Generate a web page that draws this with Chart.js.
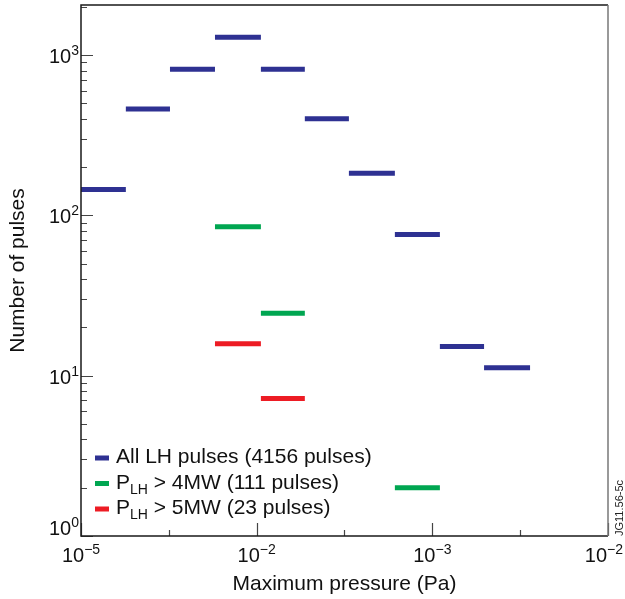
<!DOCTYPE html>
<html>
<head>
<meta charset="utf-8">
<script src="https://cdn.jsdelivr.net/npm/chart.js@4.4.1/dist/chart.umd.min.js"></script>
<style>
  html, body { margin: 0; padding: 0; background: #fff; }
  #wrap { width: 625px; height: 599px; }
</style>
</head>
<body>
<div id="wrap"><canvas id="pulseChart"></canvas></div>
<script>
// bin edges of the pressure histogram (Pa)
const binEdges = [1.0e-5, 1.80e-5, 3.21e-5, 5.79e-5, 1.057e-4, 1.88e-4, 3.35e-4, 6.12e-4, 1.104e-3, 1.97e-3, 3.60e-3];

// counts per bin (null = empty bin)
const allPulses = [145, 460, 815, 1290, 815, 400, 183, 76, 15.2, 11.2];
const plhOver4 = [null, null, null, 85, 24.5, null, null, 2.0, null, null];
const plhOver5 = [null, null, null, 15.8, 7.2, null, null, null, null, null];

// axis ticks
const xTickValues = [1e-5, 3.16e-5, 1e-4, 3.16e-4, 1e-3, 3.16e-3, 1e-2];
const xMajorValues = [1e-5, 1e-4, 1e-3, 1e-2];
const xTickExps = ['\u22125', '\u22122', '\u22123', '\u22122'];
const yMajorValues = [1, 10, 100, 1000];
const yTickExps = ['0', '1', '2', '3'];

const seriesColors = ['#2e3192', '#00a651', '#ed1c24'];
const legendParts = [
  [['All LH pulses (4156 pulses)', false]],
  [['P', false], ['LH', true], [' > 4MW (111 pulses)', false]],
  [['P', false], ['LH', true], [' > 5MW (23 pulses)', false]]
];
const figTag = 'JG11.56-5c';

const X_MIN = 1e-5, X_MAX = 1e-2, Y_MIN = 1, Y_MAX = 2050;
const FONT = '"Liberation Sans", Arial, Helvetica, sans-serif';

function toSegments(values) {
  const pts = [];
  values.forEach((v, i) => {
    if (v === null) return;
    pts.push({ x: binEdges[i], y: v });
    pts.push({ x: binEdges[i + 1], y: v });
    pts.push({ x: binEdges[i + 1], y: null });
  });
  return pts;
}

function drawPow(ctx, exp, x, baseline, align) {
  ctx.font = '20px ' + FONT;
  const wb = ctx.measureText('10').width;
  ctx.font = '14px ' + FONT;
  const we = ctx.measureText(exp).width;
  let start = x;
  if (align === 'center') start = x - (wb + we) / 2;
  if (align === 'right') start = x - (wb + we);
  // keep the last label inside the canvas
  start = Math.min(start, 623 - (wb + we));
  ctx.textAlign = 'left';
  ctx.textBaseline = 'alphabetic';
  ctx.font = '20px ' + FONT;
  ctx.fillText('10', start, baseline);
  ctx.font = '14px ' + FONT;
  ctx.fillText(exp, start + wb, baseline - 8);
}

const axesPlugin = {
  id: 'axesPlugin',
  afterDatasetsDraw(chart) {
    const { ctx, chartArea: a, scales: { x, y } } = chart;
    ctx.save();

    // inside ticks
    ctx.strokeStyle = '#444';
    ctx.lineWidth = 1.2;
    ctx.beginPath();
    for (const d of yMajorValues) {
      for (let m = 1; m <= 9; m++) {
        const v = d * m;
        if (v > Y_MAX) break;
        const py = Math.round(y.getPixelForValue(v)) + 0.5;
        ctx.moveTo(a.left, py);
        ctx.lineTo(a.left + (m === 1 ? 12 : 6), py);
      }
    }
    xTickValues.forEach(v => {
      const px = Math.round(x.getPixelForValue(v)) + 0.5;
      const major = xMajorValues.includes(v);
      ctx.moveTo(px, a.bottom);
      ctx.lineTo(px, a.bottom - (major ? 13 : 6));
    });
    ctx.stroke();

    // frame
    ctx.lineWidth = 1.5;
    ctx.strokeStyle = '#1a1a1a';
    ctx.beginPath();
    ctx.moveTo(a.right, a.top);
    ctx.lineTo(a.left, a.top);
    ctx.lineTo(a.left, a.bottom);
    ctx.lineTo(a.right, a.bottom);
    ctx.stroke();
    ctx.strokeStyle = '#777';
    ctx.beginPath();
    ctx.moveTo(a.right, a.top);
    ctx.lineTo(a.right, a.bottom);
    ctx.stroke();

    // tick labels
    ctx.fillStyle = '#111';
    xMajorValues.forEach((v, i) => {
      drawPow(ctx, xTickExps[i], x.getPixelForValue(v), 562, 'center');
    });
    yMajorValues.forEach((v, i) => {
      const py = y.getPixelForValue(v);
      drawPow(ctx, yTickExps[i], 79, i === 0 ? py - 1 : py + 8, 'right');
    });

    // legend
    legendParts.forEach((parts, i) => {
      const base = 463 + i * 25.5;
      ctx.fillStyle = seriesColors[i];
      ctx.fillRect(95, base - 7.5, 14, 5);
      ctx.fillStyle = '#111';
      let cx = 116;
      parts.forEach(([txt, sub]) => {
        ctx.font = (sub ? '14px ' : '21px ') + FONT;
        ctx.fillText(txt, cx, sub ? base + 5 : base);
        cx += ctx.measureText(txt).width;
      });
    });

    // figure tag
    ctx.translate(620, 508);
    ctx.rotate(-Math.PI / 2);
    ctx.font = '11px ' + FONT;
    ctx.textAlign = 'center';
    ctx.textBaseline = 'middle';
    ctx.fillStyle = '#222';
    ctx.fillText(figTag, 0, 0);
    ctx.restore();
  }
};

const lineStyle = {
  showLine: true,
  borderWidth: 5,
  borderCapStyle: 'butt',
  pointRadius: 0,
  pointHoverRadius: 0,
  spanGaps: false
};

new Chart(document.getElementById('pulseChart'), {
  type: 'scatter',
  data: {
    datasets: [
      { label: 'All LH pulses', data: toSegments(allPulses), borderColor: seriesColors[0], ...lineStyle },
      { label: 'PLH > 4MW', data: toSegments(plhOver4), borderColor: seriesColors[1], ...lineStyle },
      { label: 'PLH > 5MW', data: toSegments(plhOver5), borderColor: seriesColors[2], ...lineStyle }
    ]
  },
  options: {
    responsive: true,
    maintainAspectRatio: false,
    animation: false,
    events: [],
    layout: { padding: { top: 5, right: 17, left: 0, bottom: 0 } },
    plugins: { legend: { display: false }, tooltip: { enabled: false } },
    scales: {
      x: {
        type: 'logarithmic',
        min: X_MIN,
        max: X_MAX,
        grid: { display: false },
        border: { display: false },
        ticks: { display: false },
        afterBuildTicks: s => { s.ticks = xTickValues.map(v => ({ value: v })); },
        afterFit: s => { s.height = 63; },
        title: {
          display: true,
          text: 'Maximum pressure (Pa)',
          color: '#111',
          font: { family: FONT, size: 21 },
          padding: { top: 0, bottom: 2 }
        }
      },
      y: {
        type: 'logarithmic',
        min: Y_MIN,
        max: Y_MAX,
        grid: { display: false },
        border: { display: false },
        ticks: { display: false },
        afterFit: s => { s.width = 81; },
        title: {
          display: true,
          text: 'Number of pulses',
          color: '#111',
          font: { family: FONT, size: 21 },
          padding: { top: 6, bottom: 0 }
        }
      }
    }
  },
  plugins: [axesPlugin]
});
</script>
</body>
</html>
